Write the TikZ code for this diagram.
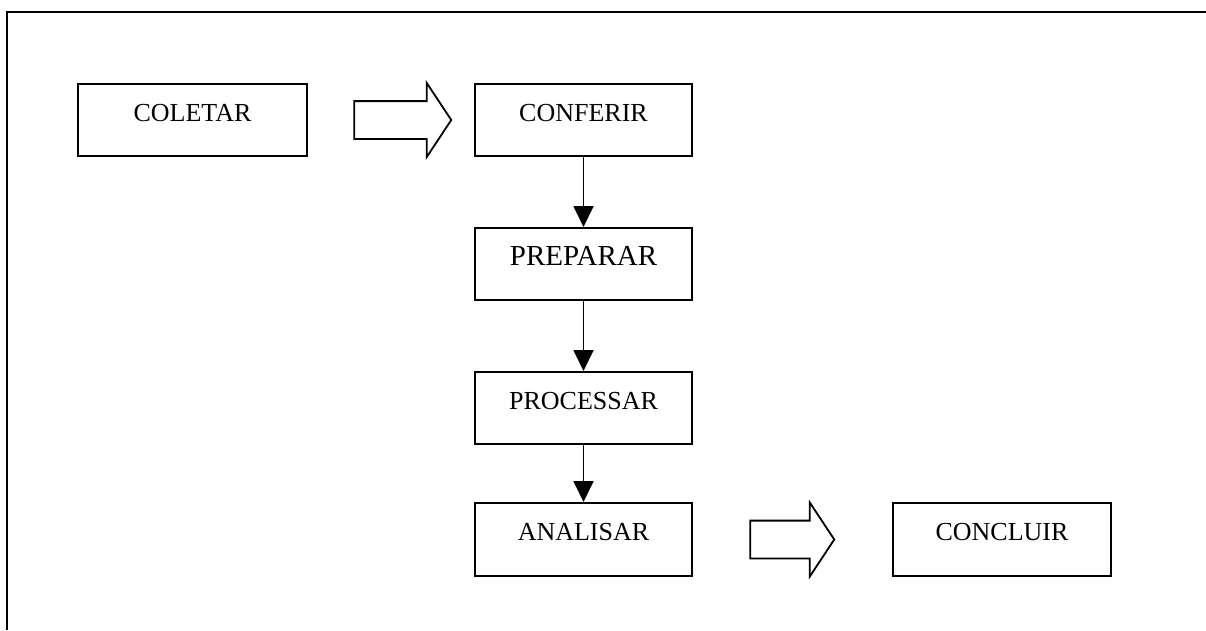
\documentclass[tikz,border=0pt]{standalone}
\usepackage{fontspec}
\setmainfont{Liberation Serif}
\usetikzlibrary{arrows.meta, shapes.arrows}
\tikzset{
    block/.style={
        rectangle, draw=black, line width=2pt, inner sep=0pt,
        minimum width=217pt, minimum height=72pt,
        text height=11pt, text depth=9pt, font=\fontsize{26}{30}\selectfont
    },
    bigblock/.style={block, font=\fontsize{29}{33}\selectfont},
    connection/.style={draw=black, line width=1.8pt, -{Triangle[width=20pt, length=21pt]}},
    blockarrow/.style={
        single arrow, draw=black, line width=1.8pt, inner sep=0pt,
        text height=18pt, text depth=18pt, text width=0pt,
        single arrow head extend=18pt, single arrow tip angle=113
    },
    frame/.style={draw=black, line width=2.2pt}
}
\begin{document}
\begin{tikzpicture}[x=1pt, y=-1pt]
    \useasboundingbox (0,0) rectangle (1206,630);

    % Frame
    \draw[frame] (1206,12) -- (7,12) -- (7,630);

    % Steps
    \node[block, minimum width=229pt] (coletar) at (192.5,120) {COLETAR};
    \node[block] (conferir) at (583.5,120) {CONFERIR};
    \node[bigblock] (preparar) at (583.5,264) {PREPARAR};
    \node[block] (processar) at (583.5,408) {PROCESSAR};
    \node[block, minimum height=73pt] (analisar) at (583.5,539.5) {ANALISAR};
    \node[block, minimum width=218pt, minimum height=73pt] (concluir) at (1002,539.5) {CONCLUIR};

    % Hollow arrows
    \node[blockarrow, minimum height=97pt] (seta1) at (396.5,120) {};
    \node[blockarrow, minimum height=84pt] (seta2) at (786,539.5) {};

    % Flow
    \draw[connection] (conferir) -- (preparar);
    \draw[connection] (preparar) -- (processar);
    \draw[connection] (processar) -- (analisar);
\end{tikzpicture}
\end{document}
